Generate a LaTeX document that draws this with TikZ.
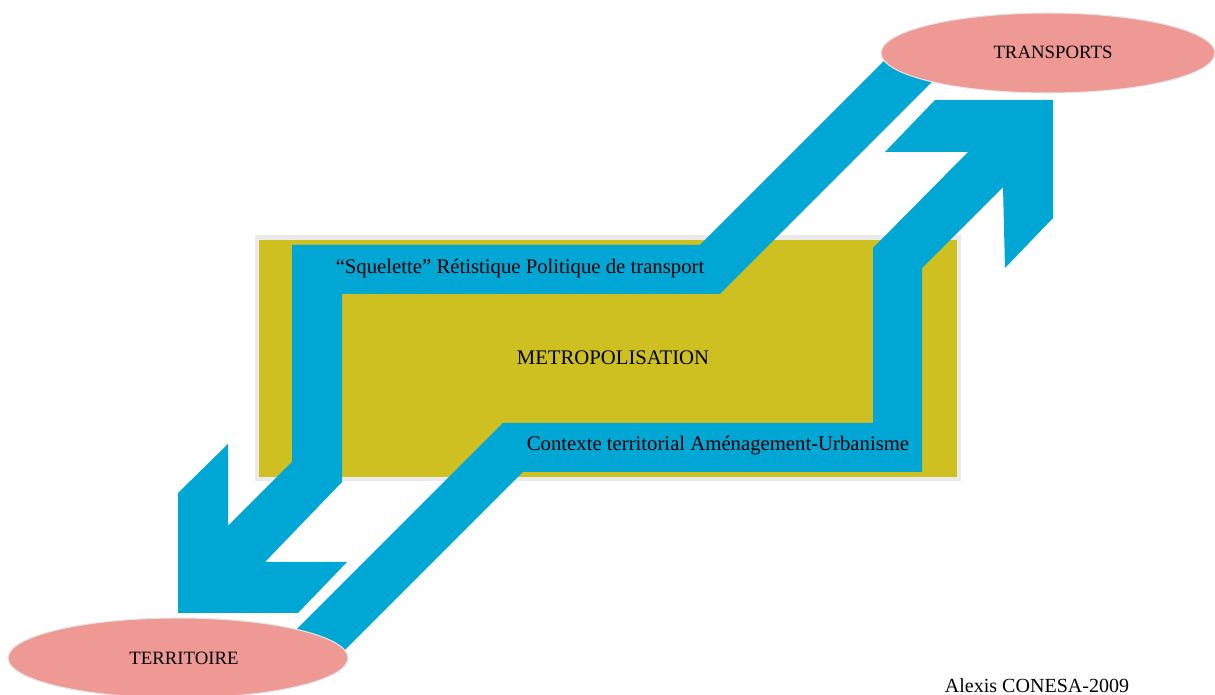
\documentclass[tikz,border=0pt]{standalone}
\usepackage{fontspec}
\setmainfont{Liberation Serif}
\usetikzlibrary{shapes.geometric}
\definecolor{bandblue}{RGB}{0,166,212}
\definecolor{boxgold}{RGB}{206,192,32}
\definecolor{ellpink}{RGB}{239,153,149}
\definecolor{shadowgray}{RGB}{234,234,236}
\tikzset{
  band/.style={fill=bandblue, draw=none},
  oval/.style={ellipse, fill=ellpink, draw=white!80!gray, line width=0.6pt, inner sep=0pt},
  lbl/.style={font=\fontsize{11.8pt}{13pt}\selectfont, text=black, inner sep=0pt},
  olbl/.style={font=\fontsize{10.7pt}{13pt}\selectfont, text=black, inner sep=0pt},
}
\begin{document}
\begin{tikzpicture}[x=0.02cm,y=-0.02cm]
\useasboundingbox (0,0) rectangle (1215,695);
% box
\fill[shadowgray] (255,235) rectangle (961,481);
\fill[boxgold] (259,240) rectangle (957,477);
% lower band (territoire -> transports)
\fill[band] (276,650) -- (503,423) -- (873,423) -- (873,248) -- (968,152) -- (885,152)
  -- (935,100) -- (1053,100) -- (1053,218) -- (1005,268) -- (1003,187) -- (922,268)
  -- (922,472) -- (523,472) -- (325,670) -- cycle;
% upper band (transports -> territoire)
\fill[band] (907,38) -- (700,245) -- (292,245) -- (292,462) -- (228,526) -- (228,444)
  -- (178,493) -- (178,613) -- (298,613) -- (347,562) -- (265,562) -- (342,482)
  -- (342,294) -- (720,294) -- (955,59) -- cycle;
% ellipses
\node[oval, minimum width=6.68cm, minimum height=1.6cm] (transports) at (1048,53) {};
\node[olbl] (transportslbl) at (1053,52) {TRANSPORTS};
\node[oval, minimum width=6.8cm, minimum height=1.6cm] (territoire) at (178,658) {};
\node[olbl] (territoirelbl) at (184,658) {TERRITOIRE};
% texts
\node[lbl] (squelette) at (520,269) {“Squelette” Rétistique Politique de transport};
\node[lbl] (metro) at (613,358) {METROPOLISATION};
\node[lbl] (contexte) at (718,446) {Contexte territorial Aménagement-Urbanisme};
\node[lbl, font=\fontsize{11.4pt}{13pt}\selectfont] (author) at (1037,686) {Alexis CONESA-2009};
\end{tikzpicture}
\end{document}
